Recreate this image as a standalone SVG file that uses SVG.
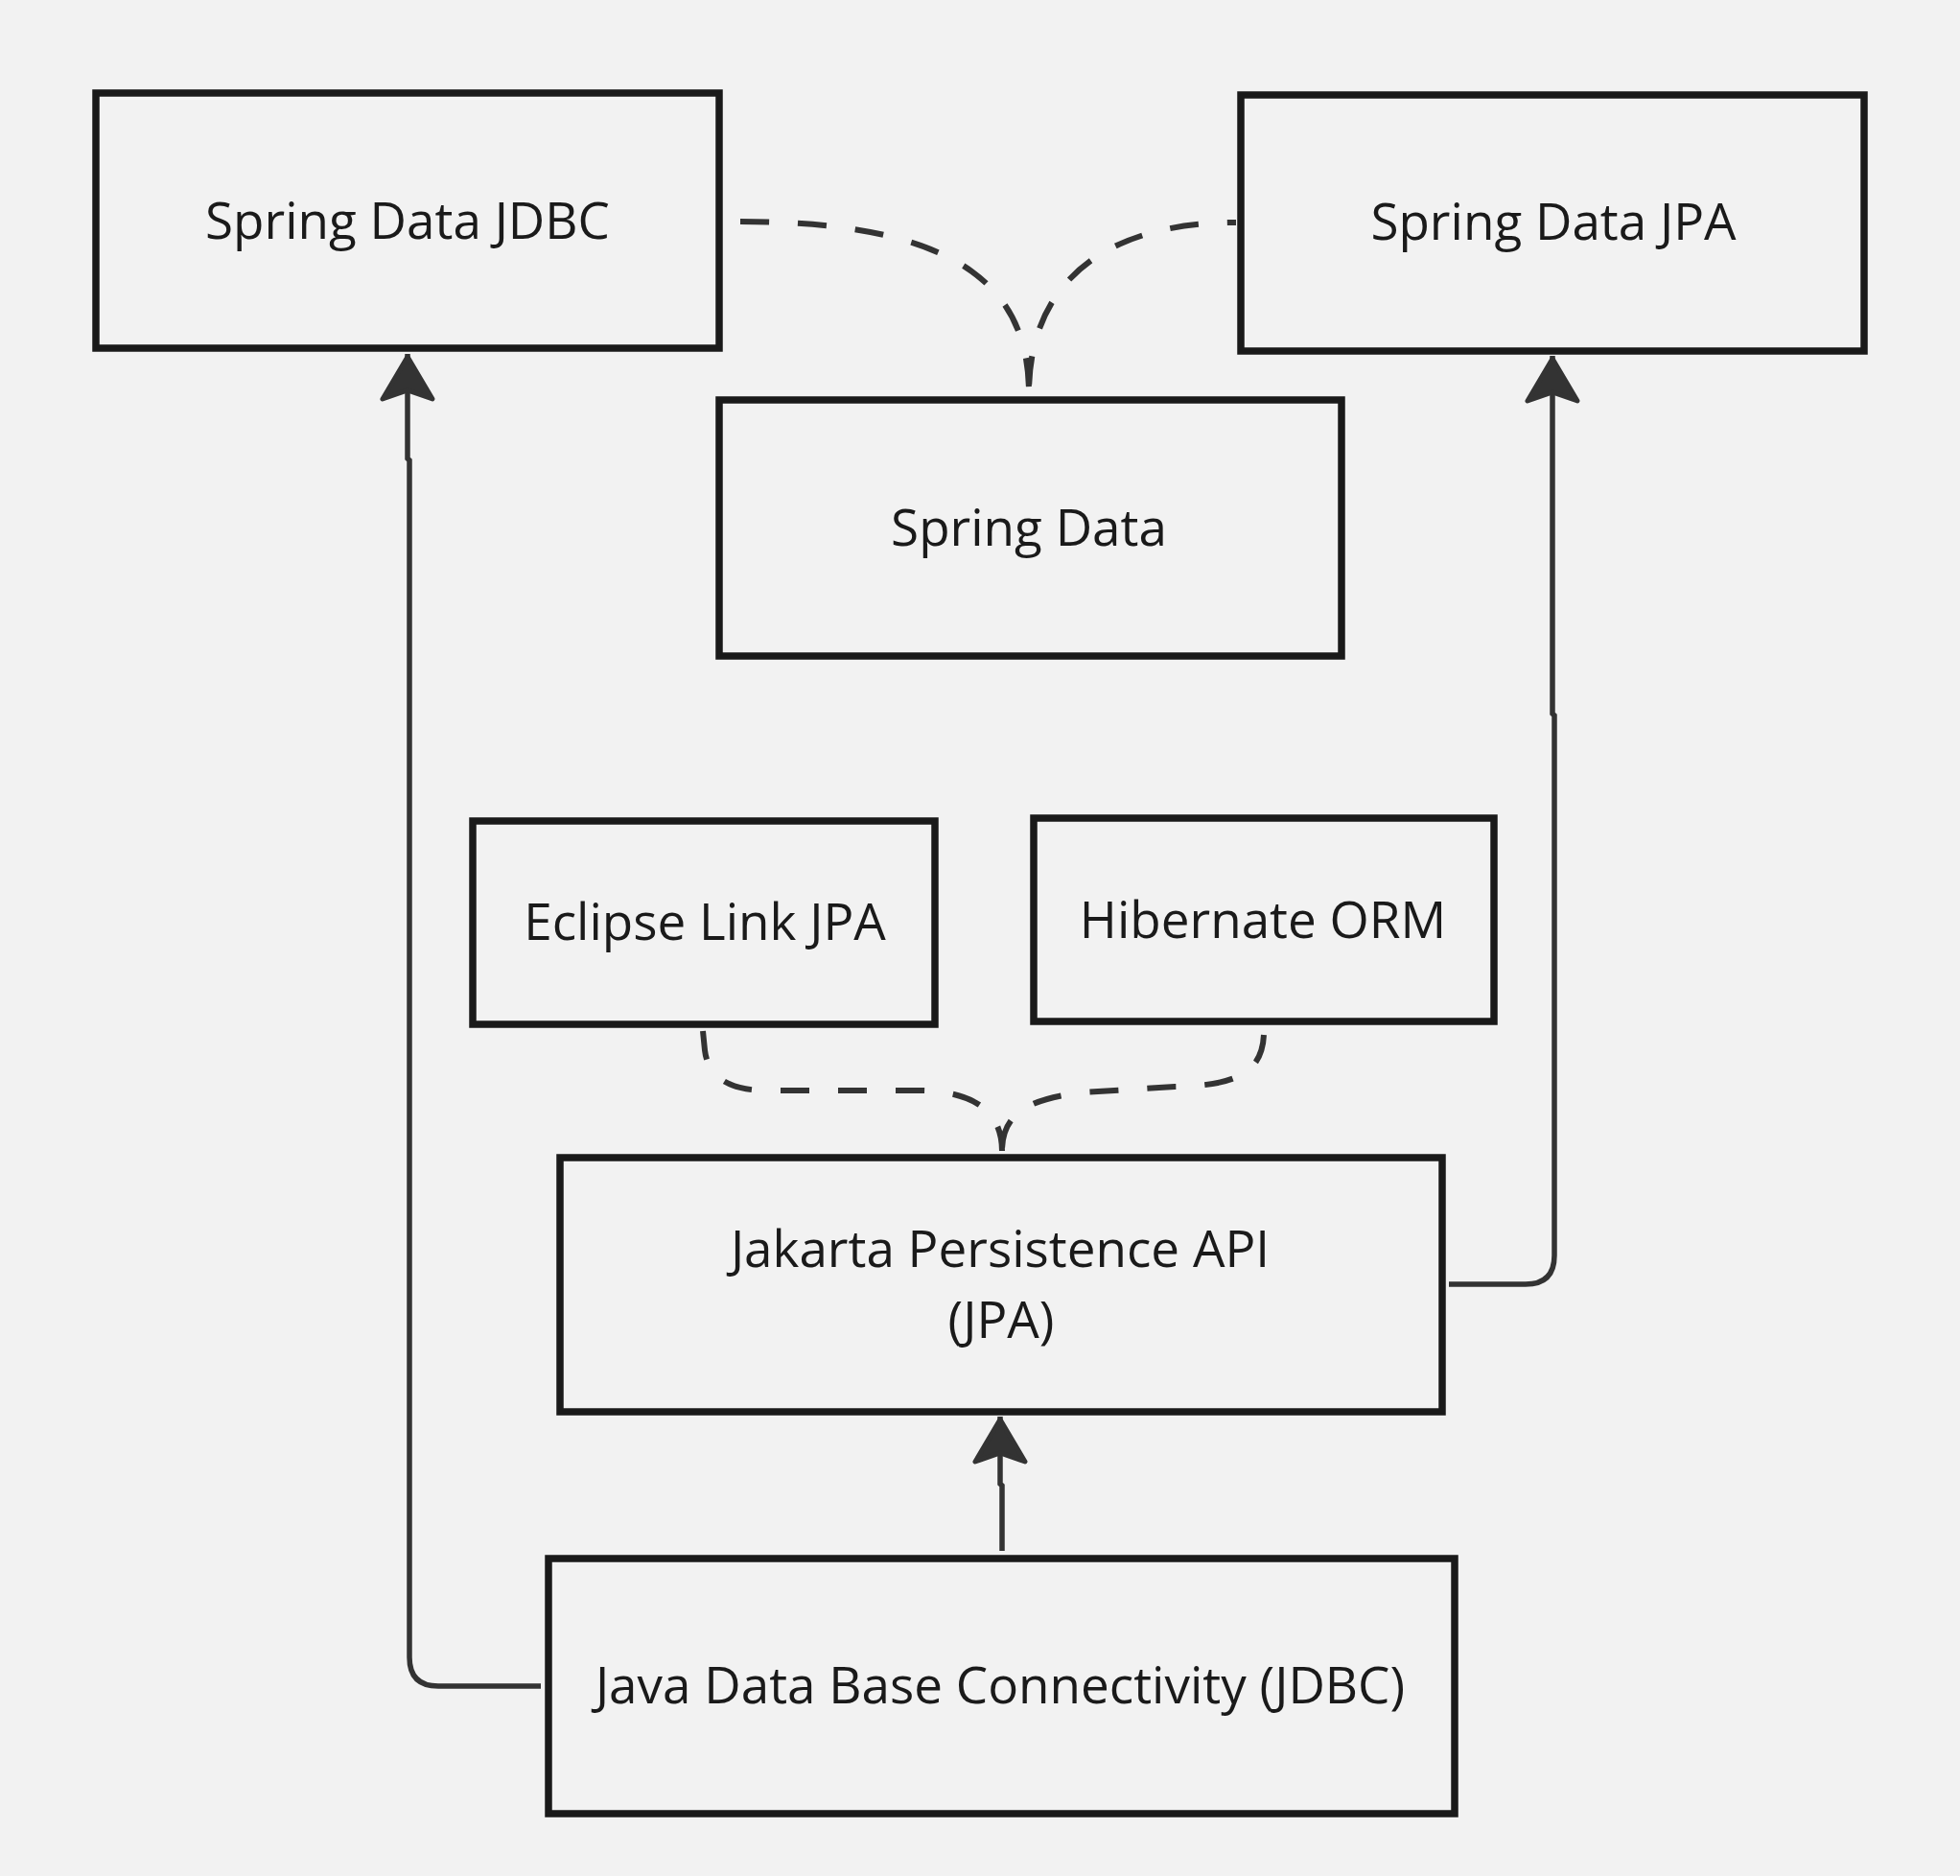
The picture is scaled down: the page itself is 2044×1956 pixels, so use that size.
<svg xmlns="http://www.w3.org/2000/svg" width="2044" height="1956" viewBox="0 0 2044 1956">
<style>
.box{fill:#f2f2f2;stroke:#1a1a1a;stroke-width:7.5}
.lbl{font-family:"Open Sans","Noto Sans",sans-serif;font-size:53px;fill:#1a1a1a;text-anchor:middle}
.solid{fill:none;stroke:#333333;stroke-width:5.5}
.dash{fill:none;stroke:#333333;stroke-width:6;stroke-dasharray:30 30}
</style>
<defs>
<marker id="arrow" markerUnits="userSpaceOnUse" orient="auto" overflow="visible" markerWidth="1" markerHeight="1" refX="0" refY="0">
<path d="M-3,0 L-47,-26 L-38,0 L-47,26 Z" fill="#333333" stroke="#333333" stroke-width="5" stroke-linejoin="round"/>
</marker>
</defs>
<rect width="2044" height="1956" fill="#f2f2f2"/>
<g id="connectors">
<path class="solid" d="M564 1758 L457 1758 Q427 1758 427 1728 L427 480 L425 478 L425 369" marker-end="url(#arrow)"/>
<path class="solid" d="M1511 1339 L1591 1339 Q1621 1339 1621 1309 L1621 746 L1619 744 L1619 371" marker-end="url(#arrow)"/>
<path class="solid" d="M1045 1617 L1045 1549 L1043 1547 L1043 1477" marker-end="url(#arrow)"/>
<path class="dash" d="M772 231 C1000 231 1073 300 1073 410"/>
<path class="dash" d="M1289 232 C1146 232 1073 300 1073 410" stroke-dashoffset="21"/>
<path class="dash" d="M733 1075 L735 1095 Q740 1137 800 1137 L960 1137 C1010 1138 1045 1155 1045 1200"/>
<path class="dash" d="M1318 1079 C1316 1118 1290 1132 1225 1133 L1130 1139 C1075 1145 1045 1160 1045 1200"/>
</g>
<g id="spring-data-jdbc">
<rect class="box" x="100" y="97" width="650" height="266"/>
<text class="lbl" x="425" y="249">Spring Data JDBC</text>
</g>
<g id="spring-data-jpa">
<rect class="box" x="1294" y="99" width="650" height="267"/>
<text class="lbl" x="1620" y="250">Spring Data JPA</text>
</g>
<g id="spring-data">
<rect class="box" x="750" y="417" width="649" height="267"/>
<text class="lbl" x="1073" y="569">Spring Data</text>
</g>
<g id="eclipse-link-jpa">
<rect class="box" x="493" y="856" width="482" height="212"/>
<text class="lbl" x="735" y="980">Eclipse Link JPA</text>
</g>
<g id="hibernate-orm">
<rect class="box" x="1078" y="853" width="480" height="212"/>
<text class="lbl" x="1317" y="978">Hibernate ORM</text>
</g>
<g id="jpa">
<rect class="box" x="584" y="1207" width="920" height="265"/>
<text class="lbl" x="1043" y="1321">Jakarta Persistence API</text>
<text class="lbl" x="1044" y="1395">(JPA)</text>
</g>
<g id="jdbc">
<rect class="box" x="572" y="1625" width="945" height="266"/>
<text class="lbl" x="1043" y="1776">Java Data Base Connectivity (JDBC)</text>
</g>
</svg>
